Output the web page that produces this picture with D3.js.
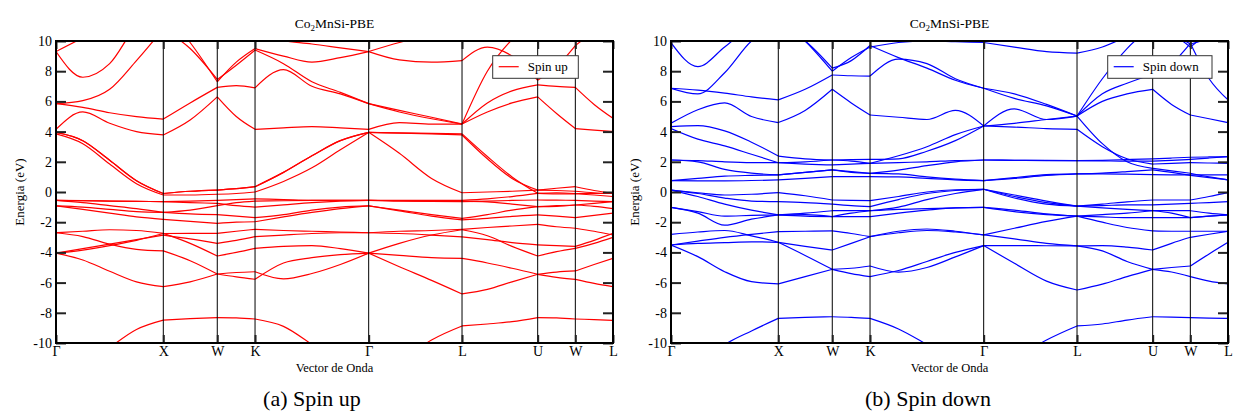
<!DOCTYPE html>
<html lang="es">
<head>
<meta charset="utf-8">
<title>Co2MnSi-PBE</title>
<script src="https://d3js.org/d3.v7.min.js"></script>
<style>
  body { margin: 0; background: #fff; }
  svg text { font-family: "Liberation Serif", "DejaVu Serif", serif; fill: #000; }
</style>
</head>
<body>
<div id="chart"></div>
<script>
// high symmetry path and sample positions along it
var kLabels = ["Γ", "X", "W", "K", "Γ", "L", "U", "W", "L"];
var kTicks = [0, 1.0, 1.503, 1.855, 2.914, 3.784, 4.489, 4.840, 5.191];
var kGrid = [0, 0.25, 0.5, 0.75, 1.0, 1.25, 1.503, 1.68, 1.855, 2.12, 2.385, 2.65, 2.914,
             3.2, 3.5, 3.784, 4.02, 4.25, 4.489, 4.665, 4.840, 5.015, 5.191];
var segBreaks = [0, 4, 6, 8, 12, 15, 18, 20, 22];
var yTicks = d3.range(-10, 11, 2);

// spin up bands (eV), one value per kGrid point
var up1  = [-12.3,-11.6,-10.3,-9.1,-8.48,-8.39,-8.32,-8.34,-8.41,-8.9,-10.1,-11.4,-12.3,-11.3,-9.8,-8.87,-8.74,-8.59,-8.32,-8.34,-8.41,-8.45,-8.5];
var up2  = [-4.05,-4.5,-5.25,-5.95,-6.27,-5.95,-5.43,-5.33,-5.28,-5.75,-5.4,-4.8,-4.05,-4.95,-5.85,-6.75,-6.45,-5.95,-5.45,-5.65,-5.78,-6.05,-6.27];
var up3  = [-2.7,-2.95,-3.45,-3.8,-3.9,-4.55,-5.43,-5.62,-5.78,-4.7,-4.35,-4.15,-4.05,-4.2,-4.35,-4.4,-4.7,-5.05,-5.45,-5.3,-5.23,-4.8,-4.39];
var up4  = [-4.05,-3.75,-3.45,-3.15,-2.85,-3.1,-3.4,-3.2,-2.96,-2.85,-2.75,-2.7,-2.7,-2.75,-2.85,-2.97,-3.15,-3.35,-3.5,-3.55,-3.6,-3.2,-2.74];
var up5  = [-4.05,-3.85,-3.55,-3.2,-2.75,-2.74,-2.74,-2.6,-2.47,-2.55,-2.6,-2.65,-2.7,-2.6,-2.55,-2.47,-2.35,-2.25,-2.14,-2.3,-2.4,-2.6,-2.85];
var up6  = [-2.7,-2.6,-2.5,-2.55,-2.74,-3.4,-4.24,-4.0,-3.73,-3.6,-3.55,-3.75,-4.05,-3.4,-2.85,-2.5,-2.9,-3.6,-4.24,-3.95,-3.73,-3.4,-3.0];
var up7  = [-0.92,-1.15,-1.4,-1.65,-1.81,-1.95,-2.08,-2.0,-1.97,-1.65,-1.35,-1.1,-0.92,-1.25,-1.6,-1.85,-1.75,-1.62,-1.52,-1.6,-1.7,-1.55,-1.4];
var up8  = [-0.92,-1.0,-1.15,-1.3,-1.35,-1.45,-1.5,-1.6,-1.7,-1.5,-1.2,-1.0,-0.92,-1.2,-1.5,-1.75,-1.5,-1.2,-0.97,-0.9,-0.86,-0.95,-1.1];
var up9  = [-0.55,-0.57,-0.6,-0.62,-0.64,-0.7,-0.75,-0.9,-1.0,-0.85,-0.7,-0.6,-0.55,-0.58,-0.62,-0.64,-0.6,-0.56,-0.53,-0.54,-0.55,-0.6,-0.64];
var up10 = [-0.55,-0.58,-0.6,-0.62,-0.64,-0.6,-0.55,-0.5,-0.45,-0.5,-0.55,-0.55,-0.55,-0.55,-0.55,-0.55,-0.45,-0.3,-0.09,-0.05,-0.1,-0.1,-0.1];
var up11 = [-0.55,-0.7,-0.9,-1.1,-1.35,-1.2,-0.9,-0.7,-0.6,-0.58,-0.56,-0.55,-0.55,-0.6,-0.6,-0.6,-0.65,-0.8,-0.97,-0.95,-0.86,-0.75,-0.64];
var up12 = [3.95,3.4,2.1,0.75,-0.1,0.05,0.13,0.22,0.35,1.3,2.4,3.4,3.95,3.9,3.85,3.78,2.2,0.9,0.13,0.1,0.05,-0.05,-0.1];
var up13 = [3.85,3.2,1.85,0.55,-0.2,-0.2,-0.15,-0.1,0.0,0.7,1.6,2.8,3.95,3.92,3.88,3.85,2.35,1.0,-0.09,-0.12,-0.12,-0.2,-0.3];
var up14 = [3.95,3.4,2.1,0.75,-0.1,0.05,0.13,0.22,0.35,1.3,2.4,3.4,3.95,2.56,0.9,-0.05,0.0,0.05,0.13,0.25,0.35,0.1,-0.1];
var up15 = [5.85,5.6,5.25,4.99,4.83,5.9,6.93,7.05,6.9,8.1,7.0,6.5,5.85,5.4,4.95,4.5,5.9,6.7,7.1,7.0,6.93,5.8,4.88];
var up16 = [5.85,6.05,6.8,8.7,10.8,9.5,7.45,8.4,9.4,8.5,7.3,6.6,5.85,5.3,4.85,4.5,5.3,5.9,6.3,5.2,4.2,4.1,4.0];
var up17 = [4.15,5.3,4.55,4.0,3.78,4.77,6.3,5.0,4.15,4.25,4.33,4.25,4.15,4.6,4.5,4.5,8.0,10.1,11.5,11.5,11,11,11];
var up18 = [9.3,7.6,8.5,11,12,9.9,7.3,8.6,9.5,9.0,8.6,8.9,9.3,8.75,8.6,8.7,9.6,9.0,7.4,8.3,9.7,10.6,11.2];
var up19 = [9.3,10.2,11,11.5,12,12,11.5,10.8,10.3,10.0,9.8,9.55,9.3,9.9,10.4,10.8,11,11,11,11,11,11,11];

// spin down bands (eV)
var dn1  = [-12.0,-11.4,-10.1,-9.2,-8.37,-8.3,-8.26,-8.3,-8.37,-9.07,-10.1,-11.2,-12.0,-11.1,-9.8,-8.87,-8.74,-8.48,-8.26,-8.28,-8.32,-8.35,-8.37];
var dn2  = [-3.51,-4.28,-5.28,-5.94,-6.09,-5.6,-5.12,-5.05,-4.9,-5.3,-5.0,-4.3,-3.55,-4.72,-5.9,-6.49,-6.1,-5.6,-5.12,-5.3,-5.6,-5.9,-6.09];
var dn3  = [-3.51,-3.25,-3.0,-2.8,-2.63,-2.6,-2.58,-2.75,-2.96,-2.6,-2.45,-2.6,-2.84,-3.1,-3.4,-3.57,-3.55,-3.65,-3.84,-3.4,-3.0,-2.8,-2.6];
var dn4  = [-2.8,-2.65,-2.55,-2.9,-3.33,-4.2,-5.12,-5.4,-5.6,-5.2,-4.6,-4.0,-3.55,-3.55,-3.56,-3.57,-3.9,-4.6,-5.12,-5.0,-4.9,-4.1,-3.33];
var dn5  = [-3.51,-3.4,-3.35,-3.3,-3.33,-3.6,-3.84,-3.4,-2.96,-2.7,-2.55,-2.65,-2.84,-2.4,-1.95,-1.6,-2.0,-2.35,-2.58,-2.6,-2.6,-2.6,-2.6];
var dn6  = [0.13,-0.05,-0.2,-0.15,-0.04,-0.25,-0.53,-0.55,-0.57,-0.3,0.0,0.15,0.18,-0.3,-0.7,-0.93,-0.8,-0.65,-0.53,-0.53,-0.53,-0.3,-0.04];
var dn7  = [0.13,-0.1,-0.4,-0.6,-0.64,-0.7,-0.8,-0.9,-0.97,-0.5,-0.1,0.1,0.18,-0.2,-0.6,-0.93,-0.9,-0.85,-0.85,-0.8,-0.75,-0.7,-0.64];
var dn8  = [0.13,-0.3,-0.8,-1.2,-1.52,-1.4,-1.24,-1.24,-1.24,-1.0,-0.5,-0.1,0.18,-0.4,-0.8,-0.93,-1.05,-1.15,-1.24,-1.24,-1.24,-1.4,-1.52];
var dn9  = [-1.02,-1.4,-2.2,-1.8,-1.52,-1.6,-1.63,-1.63,-1.63,-1.4,-1.2,-1.05,-1.02,-1.2,-1.45,-1.6,-1.65,-1.7,-1.7,-1.7,-1.7,-1.6,-1.52];
var dn10 = [-1.02,-1.3,-1.6,-1.55,-1.52,-1.5,-1.63,-1.4,-1.24,-1.15,-1.1,-1.05,-1.02,-1.3,-1.5,-1.6,-1.5,-1.4,-1.24,-1.4,-1.7,-1.6,-1.52];
var dn11 = [2.12,2.0,1.5,1.25,1.13,1.3,1.46,1.35,1.24,1.45,1.75,2.0,2.12,2.1,2.08,2.08,2.1,2.15,2.2,2.25,2.3,2.32,2.34];
var dn12 = [2.12,2.08,2.0,1.95,1.94,2.0,2.12,2.05,1.9,1.95,2.0,2.08,2.12,2.1,2.09,2.08,2.06,2.04,2.04,2.1,2.16,2.25,2.34];
var dn13 = [4.2,3.5,3.05,2.5,1.94,1.85,1.79,1.85,1.9,2.4,3.0,3.8,4.37,4.3,4.2,4.15,3.0,2.2,1.85,1.9,1.94,1.92,1.9];
var dn14 = [4.33,4.4,4.05,3.3,2.38,2.2,2.12,2.14,2.16,2.2,2.7,3.4,4.37,4.55,4.8,5.03,3.2,2.0,1.57,1.4,1.24,1.0,0.8];
var dn15 = [0.75,0.9,1.05,1.1,1.13,1.3,1.46,1.3,1.24,1.2,1.0,0.85,0.75,0.95,1.15,1.2,1.2,1.18,1.15,1.14,1.13,1.13,1.13];
var dn16 = [0.75,0.74,0.74,0.76,0.8,0.9,1.02,1.02,1.02,1.0,0.9,0.8,0.75,0.9,1.1,1.2,1.25,1.35,1.47,1.3,1.1,0.95,0.8];
var dn17 = [4.55,5.45,5.9,5.0,4.6,5.4,6.8,5.9,5.1,4.95,4.8,5.4,4.37,5.5,4.8,5.03,6.0,6.5,6.8,5.8,5.1,4.85,4.6];
var dn18 = [6.87,6.75,6.55,6.3,6.1,6.8,7.75,7.7,7.68,8.8,8.5,7.5,6.87,6.5,5.8,5.03,6.5,7.2,7.8,8.5,9.85,7.5,6.1];
var dn19 = [6.87,6.5,7.9,10.0,11.0,10.0,8.2,8.7,9.7,8.9,8.2,7.4,6.87,6.2,5.7,5.03,7.5,9.5,11,10.5,9.6,10.5,11];
var dn20 = [9.89,8.3,9.6,11,11.5,10.0,8.0,8.9,9.6,9.9,10.0,9.95,9.9,9.6,9.3,9.2,9.6,10.3,11,10.5,9.8,10.2,11];

var bandsUp = [up1, up2, up3, up4, up5, up6, up7, up8, up9, up10, up11, up12, up13, up14, up15, up16, up17, up18, up19];
var bandsDown = [dn1, dn2, dn3, dn4, dn5, dn6, dn7, dn8, dn9, dn10, dn11, dn12, dn13, dn14, dn15, dn16, dn17, dn18, dn19, dn20];

var width = 1236, height = 415;
var plotW = 557, plotTop = 41, plotBottom = 343;
var serif = "Liberation Serif, DejaVu Serif, serif";

var svg = d3.select("#chart").append("svg")
  .attr("width", width)
  .attr("height", height)
  .attr("font-family", serif);

svg.append("rect").attr("width", width).attr("height", height).attr("fill", "#fff");

var drawPanel = function(id, left, bands, color, legendLabel, legendW, caption, captionX) {
  var x = d3.scaleLinear().domain([0, kTicks[kTicks.length - 1]]).range([left, left + plotW]);
  var y = d3.scaleLinear().domain([-10, 10]).range([plotBottom, plotTop]);
  var g = svg.append("g");

  g.append("clipPath").attr("id", "clip-" + id)
    .append("rect")
      .attr("x", left).attr("y", plotTop)
      .attr("width", plotW).attr("height", plotBottom - plotTop);

  // bands, drawn segment by segment so they can kink at symmetry points
  var line = d3.line()
    .x(function(d) { return x(d[0]); })
    .y(function(d) { return y(d[1]); })
    .curve(d3.curveMonotoneX);

  var bandG = g.append("g").attr("clip-path", "url(#clip-" + id + ")");
  bands.forEach(function(band) {
    for (var s = 0; s < segBreaks.length - 1; s++) {
      var pts = [];
      for (var i = segBreaks[s]; i <= segBreaks[s + 1]; i++) pts.push([kGrid[i], band[i]]);
      bandG.append("path")
        .attr("d", line(pts))
        .attr("fill", "none")
        .attr("stroke", color)
        .attr("stroke-width", 1.2);
    }
  });

  // vertical lines at high symmetry points
  g.selectAll(".kline").data(kTicks.slice(1, -1)).enter()
    .append("line")
      .attr("x1", function(d) { return x(d); })
      .attr("x2", function(d) { return x(d); })
      .attr("y1", plotTop).attr("y2", plotBottom)
      .attr("stroke", "#000").attr("stroke-width", 1);

  // x axis ticks (top and bottom, inward)
  var xAxisB = d3.axisBottom(x).tickValues(kTicks).tickSize(-8).tickPadding(3)
    .tickFormat(function(d, i) { return kLabels[i]; });
  var gxb = g.append("g").attr("transform", "translate(0," + plotBottom + ")").call(xAxisB);
  var xAxisT = d3.axisTop(x).tickValues(kTicks).tickSize(-8).tickFormat("");
  var gxt = g.append("g").attr("transform", "translate(0," + plotTop + ")").call(xAxisT);

  // y axis ticks (left with labels, right without)
  var yAxisL = d3.axisLeft(y).tickValues(yTicks).tickSize(-10).tickPadding(4)
    .tickFormat(function(d) { return d < 0 ? "-" + Math.abs(d) : d; });
  var gyl = g.append("g").attr("transform", "translate(" + left + ",0)").call(yAxisL);
  var yAxisR = d3.axisRight(y).tickValues(yTicks).tickSize(-10).tickFormat("");
  var gyr = g.append("g").attr("transform", "translate(" + (left + plotW) + ",0)").call(yAxisR);

  [gxb, gxt, gyl, gyr].forEach(function(a) {
    a.attr("font-family", serif);
    a.select(".domain").remove();
    a.selectAll(".tick line").attr("stroke", "#222").attr("stroke-width", 2);
    a.selectAll(".tick text").attr("font-size", 14).attr("fill", "#000");
  });

  // frame
  g.append("rect")
    .attr("x", left).attr("y", plotTop)
    .attr("width", plotW).attr("height", plotBottom - plotTop)
    .attr("fill", "none").attr("stroke", "#000").attr("stroke-width", 2);

  // title with subscript
  var title = g.append("text")
    .attr("x", left + plotW / 2).attr("y", 28)
    .attr("text-anchor", "middle").attr("font-size", 13.5);
  title.append("tspan").text("Co");
  title.append("tspan").attr("dy", 3).attr("font-size", 9).text("2");
  title.append("tspan").attr("dy", -3).text("MnSi-PBE");

  // axis labels
  g.append("text")
    .attr("x", left + plotW / 2).attr("y", 372)
    .attr("text-anchor", "middle").attr("font-size", 12.5)
    .text("Vector de Onda");
  g.append("text")
    .attr("transform", "translate(" + (left - 37) + "," + ((plotTop + plotBottom) / 2) + ")rotate(-90)")
    .attr("text-anchor", "middle").attr("dominant-baseline", "central")
    .attr("font-size", 13)
    .text("Energia (eV)");

  // legend
  var lx = left + 436.7, ly = 55.7;
  g.append("rect")
    .attr("x", lx).attr("y", ly).attr("width", legendW).attr("height", 22.6)
    .attr("fill", "#fff").attr("stroke", "#333").attr("stroke-width", 1);
  g.append("line")
    .attr("x1", lx + 6).attr("x2", lx + 26)
    .attr("y1", ly + 11).attr("y2", ly + 11)
    .attr("stroke", color).attr("stroke-width", 1.2);
  g.append("text")
    .attr("x", lx + 35).attr("y", ly + 15.5)
    .attr("font-size", 13)
    .text(legendLabel);

  // sub-figure caption
  g.append("text")
    .attr("x", captionX).attr("y", 406)
    .attr("text-anchor", "middle").attr("font-size", 22)
    .text(caption);
};

drawPanel("up", 56, bandsUp, "#ff0000", "Spin up", 85.6, "(a) Spin up", 312);
drawPanel("down", 671, bandsDown, "#0000ff", "Spin down", 104.3, "(b) Spin down", 928);
</script>
</body>
</html>
